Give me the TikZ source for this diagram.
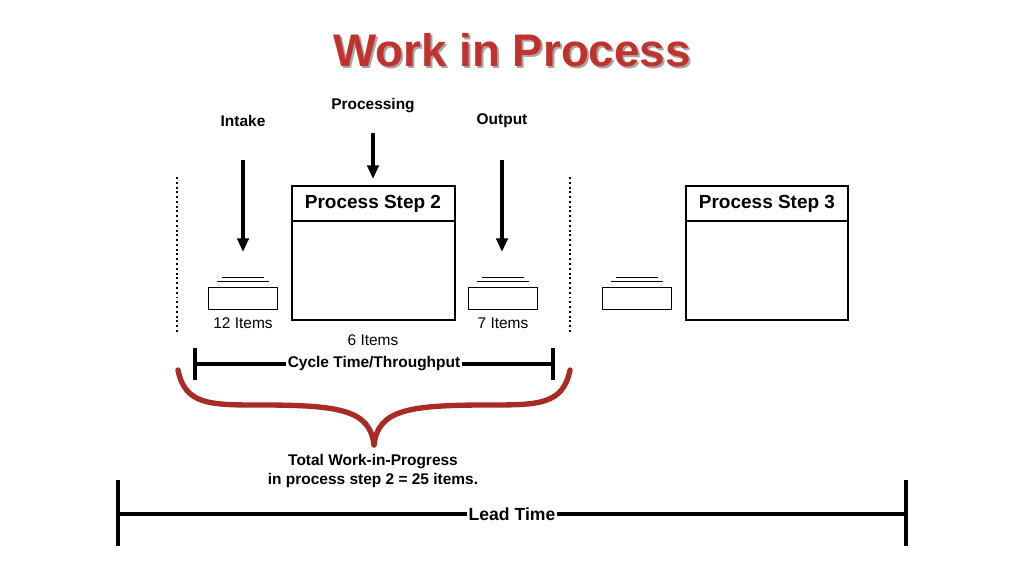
\documentclass[tikz,border=0pt]{standalone}
\usepackage{fontspec}
\setmainfont{Liberation Sans}
\usetikzlibrary{arrows.meta}
\usetikzlibrary{positioning}
\definecolor{titlered}{HTML}{C0322B}
\definecolor{bracered}{HTML}{A82B26}
\tikzset{
    label/.style={font=\fontsize{11}{13}\selectfont\bfseries},
    count/.style={font=\fontsize{11}{13}\selectfont},
    feed/.style={-{Triangle[length=3.4mm, width=2.8mm]}, line width=2.6pt},
    bar/.style={line width=2.6pt},
    stack/.style={draw, line width=0.7pt, minimum width=1.72cm, minimum height=0.55cm}
}
\begin{document}
\begin{tikzpicture}[x=0.025cm, y=-0.025cm]
  \useasboundingbox (0,0) rectangle (1024,576);

  % Title
  \node[text=black!35, font=\fontsize{32.5}{38}\selectfont\bfseries] at (514,52) {Work in Process};
  \node (title) [text=titlered, font=\fontsize{32.5}{38}\selectfont\bfseries] at (512,50) {Work in Process};

  % Feeds into step 2
  \node (intake) [label] at (243,121) {Intake};
  \node (processing) [label] at (373,106) {Processing};
  \node (output) [label] at (502,121) {Output};
  \coordinate (intakeTip) at (243,252);
  \coordinate (outputTip) at (502,252);
  \draw[feed] (243,160) -- (intakeTip);
  \draw[feed] (373,133) -- (373,179);
  \draw[feed] (502,160) -- (outputTip);

  % Step boundaries
  \draw[line width=1.4pt, dotted] (177,177) -- (177,332);
  \draw[line width=1.4pt, dotted] (570,177) -- (570,332);

  % Process steps
  \draw[line width=0.9pt] (292,186) rectangle (455,320);
  \draw[line width=0.9pt] (292,221) -- (455,221);
  \node (step2) [font=\fontsize{13.5}{15}\selectfont\bfseries] at (373,204) {Process Step 2};
  \draw[line width=0.9pt] (686,186) rectangle (848,320);
  \draw[line width=0.9pt] (686,221) -- (848,221);
  \node (step3) [font=\fontsize{13.5}{15}\selectfont\bfseries] at (767,204) {Process Step 3};

  % Queues
  \foreach \x/\n in {243/inq, 503/outq, 637/nextq} {
    \node (\n) [stack] at (\x,298) {};
    \draw[line width=0.7pt] (\x-26,281) -- (\x+26,281);
    \draw[line width=0.7pt] (\x-21,277) -- (\x+21,277);
  }
  \node (inCount) [count] at (243,323) {12 Items};
  \node (outCount) [count] at (503,323) {7 Items};
  \node (stepCount) [count] at (373,340) {6 Items};

  % Cycle time
  \node (cycle) [label, fill=white, inner sep=1pt] at (374,364) {Cycle Time/Throughput};
  \draw[bar] (195,364) -- (cycle.west);
  \draw[bar] (cycle.east) -- (553,364);
  \draw[bar] (195,348) -- (195,380);
  \draw[bar] (553,348) -- (553,380);

  % Brace
  \draw[bracered, line width=3.8pt, line cap=round]
    (178,370) .. controls (185,405) and (210,405) .. (260,405)
    .. controls (340,405) and (370,410) .. (374,445);
  \draw[bracered, line width=3.8pt, line cap=round]
    (570,370) .. controls (563,405) and (538,405) .. (488,405)
    .. controls (408,405) and (378,410) .. (374,445);

  \node (total) [label, align=center] at (373,471) {Total Work-in-Progress\\in process step 2 = 25 items.};

  % Lead time
  \node (lead) [font=\fontsize{12.5}{14}\selectfont\bfseries, fill=white, inner sep=1pt] at (512,514) {Lead Time};
  \draw[bar] (118,514) -- (lead.west);
  \draw[bar] (lead.east) -- (906,514);
  \draw[bar] (118,480) -- (118,546);
  \draw[bar] (906,480) -- (906,546);
\end{tikzpicture}
\end{document}
